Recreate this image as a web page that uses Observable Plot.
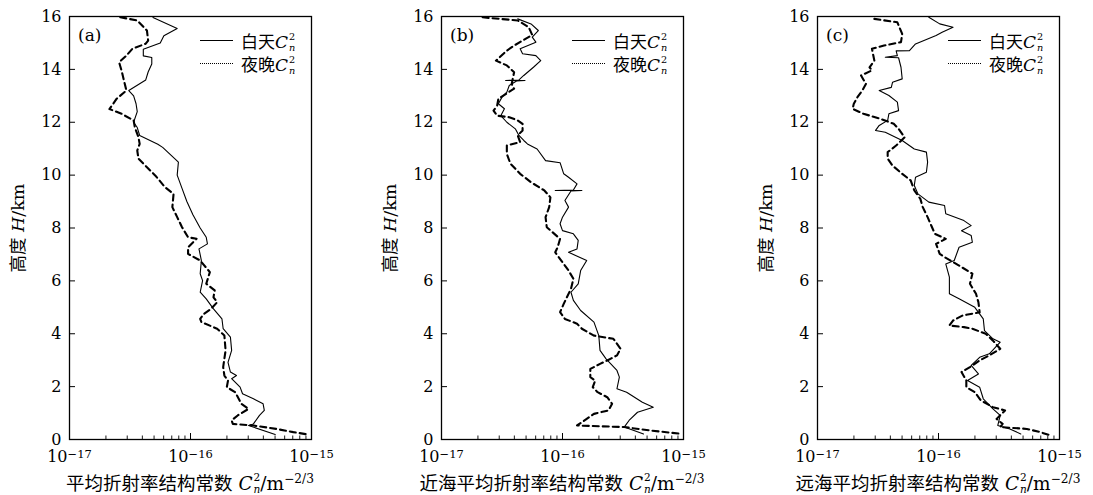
<!DOCTYPE html>
<html><head><meta charset="utf-8">
<script src="https://cdn.jsdelivr.net/npm/d3@7"></script>
<script src="https://cdn.jsdelivr.net/npm/@observablehq/plot@0.6"></script>
<style>
body{margin:0;background:#fff;}
#fig{position:relative;width:1093px;height:495px;overflow:hidden;font-family:"DejaVu Serif","Noto Sans CJK SC",serif;color:#000;background:#fff;}
.panel{position:absolute;top:0;width:372px;height:495px;}
.panel svg{max-width:none;}
.ov{position:absolute;white-space:nowrap;line-height:1;}
.cjk{font-family:"Noto Sans CJK SC",sans-serif;}
.it{font-style:italic;font-family:"DejaVu Serif",serif;}
.ss{display:inline-block;vertical-align:-0.3em;font-size:0.57em;line-height:1.17;text-align:left;margin-left:1px;}
.ss span{display:block;}
.sup{font-size:0.66em;vertical-align:0.55em;}
</style></head><body><div id="fig"></div><script>
// ---- axis ticks / labels ----
const yTicks = [0, 2, 4, 6, 8, 10, 12, 14, 16];
const xMajor = [1e-17, 1e-16, 1e-15];
const xMinor = [2e-17,3e-17,4e-17,5e-17,6e-17,7e-17,8e-17,9e-17,2e-16,3e-16,4e-16,5e-16,6e-16,7e-16,8e-16,9e-16];
const xTickBase = "10";
const xTickExp = ["\u221217", "\u221216", "\u221215"];
const panelLabels = ["(a)", "(b)", "(c)"];
const xTitles = ["平均折射率结构常数", "近海平均折射率结构常数", "远海平均折射率结构常数"];
const yTitle = "高度";
const legendNames = ["白天", "夜晚"];

// ---- data: height H (km) and log10 of C_n^2 ----
const hDayA = [15.96,15.55,15.27,15.0,14.76,14.51,14.45,14.2,13.9,13.6,13.2,13.0,12.7,12.4,12.0,11.8,11.5,11.17,11.05,10.73,10.49,10.0,9.5,9.0,8.5,8.0,7.65,7.4,7.21,6.77,6.27,6.01,5.57,5.32,4.94,4.56,4.19,3.87,3.37,2.92,2.55,2.42,2.3,1.98,1.73,1.54,1.35,1.1,0.91,0.59,0.53,0.19];
const lgDayA = [-16.31,-16.11,-16.22,-16.25,-16.39,-16.39,-16.32,-16.32,-16.35,-16.37,-16.51,-16.47,-16.45,-16.44,-16.47,-16.44,-16.42,-16.27,-16.23,-16.155,-16.10,-16.11,-16.07,-16.03,-15.98,-15.92,-15.87,-15.86,-15.93,-15.91,-15.92,-15.90,-15.92,-15.87,-15.81,-15.74,-15.73,-15.67,-15.66,-15.69,-15.67,-15.62,-15.66,-15.59,-15.57,-15.48,-15.40,-15.39,-15.43,-15.48,-15.52,-15.30];
const hNightA = [15.97,15.85,15.47,15.09,14.97,14.78,14.52,14.27,13.96,13.58,13.2,12.89,12.5,12.32,12.07,11.81,11.43,11.18,10.93,10.62,10.3,9.98,9.54,9.29,8.79,8.41,8.03,7.65,7.59,7.27,7.02,6.77,6.33,5.89,5.64,5.38,5.19,4.94,4.75,4.56,4.44,4.19,3.93,3.37,2.74,2.42,2.23,1.98,1.79,1.35,1.16,0.91,0.72,0.59,0.53,0.4,0.28,0.19];
const lgNightA = [-16.58,-16.44,-16.36,-16.35,-16.37,-16.48,-16.53,-16.59,-16.57,-16.55,-16.53,-16.61,-16.67,-16.57,-16.47,-16.46,-16.43,-16.42,-16.44,-16.43,-16.36,-16.29,-16.21,-16.14,-16.15,-16.11,-16.07,-16.02,-15.95,-16.02,-16.02,-15.92,-15.84,-15.87,-15.80,-15.81,-15.78,-15.83,-15.89,-15.92,-15.91,-15.78,-15.72,-15.71,-15.73,-15.72,-15.69,-15.70,-15.63,-15.58,-15.52,-15.61,-15.66,-15.65,-15.48,-15.29,-15.15,-15.03];

const hDayB = [15.91,15.72,15.47,15.22,15.03,14.78,14.59,14.52,14.33,14.08,13.77,13.6,13.58,13.58,13.56,13.39,13.14,12.95,12.7,12.51,12.25,12.0,11.75,11.5,11.31,11.18,10.99,10.55,10.47,10.05,9.92,9.67,9.44,9.42,9.42,9.40,9.04,8.79,8.41,8.16,7.9,7.78,7.53,7.21,7.08,6.77,6.39,5.89,5.57,5.26,4.88,4.44,3.93,3.37,3.05,2.61,2.36,1.92,1.79,1.41,1.22,1.03,0.72,0.47,0.21];
const lgDayB = [-16.37,-16.26,-16.20,-16.25,-16.22,-16.35,-16.33,-16.22,-16.18,-16.24,-16.32,-16.36,-16.47,-16.31,-16.38,-16.44,-16.46,-16.50,-16.53,-16.48,-16.51,-16.46,-16.39,-16.36,-16.32,-16.29,-16.21,-16.14,-16.02,-15.99,-15.95,-15.88,-15.91,-16.06,-15.84,-15.93,-15.98,-15.95,-16.00,-16.02,-16.00,-15.91,-15.87,-15.88,-15.95,-15.80,-15.85,-15.87,-15.93,-15.91,-15.85,-15.74,-15.70,-15.69,-15.64,-15.55,-15.53,-15.55,-15.47,-15.34,-15.25,-15.38,-15.45,-15.49,-15.33];
const hNightB = [15.97,15.85,15.6,15.3,14.9,14.71,14.33,14.15,13.89,13.45,13.27,12.89,12.63,12.44,12.25,12.19,12.07,11.94,11.69,11.5,11.25,11.12,10.8,10.43,10.05,9.73,9.42,9.16,8.79,8.41,8.03,7.59,7.27,7.08,6.64,6.39,6.08,5.7,5.13,4.82,4.56,4.38,4.19,3.93,3.81,3.43,3.18,2.99,2.86,2.67,2.36,2.23,1.98,1.79,1.6,1.35,1.1,0.97,0.78,0.53,0.47,0.34,0.21];
const lgNightB = [-16.66,-16.37,-16.28,-16.25,-16.40,-16.46,-16.55,-16.46,-16.40,-16.42,-16.40,-16.53,-16.54,-16.57,-16.54,-16.44,-16.37,-16.33,-16.33,-16.37,-16.35,-16.46,-16.46,-16.43,-16.35,-16.26,-16.15,-16.10,-16.11,-16.14,-16.13,-16.02,-16.04,-16.06,-15.99,-15.95,-15.91,-15.93,-15.99,-16.02,-15.98,-15.88,-15.84,-15.74,-15.58,-15.52,-15.55,-15.63,-15.69,-15.77,-15.77,-15.73,-15.75,-15.71,-15.63,-15.59,-15.62,-15.74,-15.80,-15.88,-15.49,-15.27,-15.01];

const hDayC = [15.97,15.72,15.59,15.4,15.28,14.96,14.71,14.70,14.52,14.46,14.44,14.08,13.64,13.51,13.32,13.2,13.01,12.76,12.44,12.32,12.07,11.88,11.69,11.62,11.31,10.99,10.87,10.49,10.11,9.92,9.61,9.29,8.98,8.85,8.54,8.28,8.09,7.9,7.72,7.46,7.27,6.77,6.64,6.14,5.51,5.32,5.0,4.56,4.12,3.81,3.68,3.24,3.11,2.8,2.48,2.23,1.98,1.54,1.16,0.91,0.53,0.4,0.21];
const lgDayC = [-16.08,-15.99,-15.88,-15.97,-16.02,-16.19,-16.24,-16.35,-16.34,-16.44,-16.33,-16.31,-16.30,-16.38,-16.39,-16.49,-16.41,-16.34,-16.33,-16.41,-16.42,-16.49,-16.52,-16.44,-16.30,-16.20,-16.10,-16.09,-16.10,-16.19,-16.20,-16.17,-16.08,-15.95,-15.94,-15.79,-15.73,-15.81,-15.73,-15.72,-15.83,-15.87,-15.94,-15.91,-15.91,-15.83,-15.70,-15.63,-15.62,-15.55,-15.49,-15.58,-15.66,-15.73,-15.67,-15.76,-15.66,-15.63,-15.55,-15.49,-15.51,-15.41,-15.32];
const hNightC = [15.91,15.78,15.34,15.03,14.9,14.78,14.33,14.08,13.96,13.77,13.45,13.2,12.95,12.7,12.51,12.32,12.13,11.94,11.75,11.43,11.12,10.87,10.62,10.36,10.05,9.8,9.42,9.1,8.79,8.41,7.78,7.59,7.4,7.02,6.9,6.58,6.27,5.89,5.51,5.19,4.81,4.69,4.5,4.31,4.25,4.19,4.0,3.74,3.43,3.18,2.99,2.74,2.55,2.23,1.98,1.79,1.48,1.22,1.1,0.78,0.59,0.47,0.4,0.28,0.15];
const lgNightC = [-16.53,-16.34,-16.30,-16.31,-16.45,-16.55,-16.53,-16.57,-16.55,-16.64,-16.60,-16.63,-16.67,-16.70,-16.71,-16.62,-16.48,-16.37,-16.33,-16.28,-16.35,-16.42,-16.42,-16.38,-16.30,-16.23,-16.20,-16.15,-16.13,-16.09,-16.03,-15.94,-16.02,-15.99,-15.95,-15.83,-15.72,-15.74,-15.69,-15.67,-15.66,-15.80,-15.88,-15.91,-15.79,-15.72,-15.61,-15.55,-15.49,-15.58,-15.66,-15.74,-15.81,-15.77,-15.77,-15.70,-15.65,-15.55,-15.45,-15.52,-15.47,-15.49,-15.27,-15.16,-15.07];

const series = [
  [hDayA, lgDayA, hNightA, lgNightA],
  [hDayB, lgDayB, hNightB, lgNightB],
  [hDayC, lgDayC, hNightC, lgNightC]
];
const toRows = (h, lg) => h.map((v, i) => ({H: v, C: Math.pow(10, lg[i])}));

// ---- layout ----
const fig = document.getElementById("fig");
const panelLeft = [0, 372, 748];
const ML = 69, MR = 61, MT = 16, MB = 56, W = 372, H = 495;
const FW = W - ML - MR, FH = H - MT - MB;
const cn = '<span class="it">C</span><span class="ss"><span>2</span><span class="it">n</span></span>';

function ov(html, css) {
  const d = document.createElement("div");
  d.className = "ov";
  d.innerHTML = html;
  Object.assign(d.style, css);
  fig.appendChild(d);
  return d;
}

series.forEach(([hd, ld, hn, ln], p) => {
  const day = toRows(hd, ld), night = toRows(hn, ln);
  const svg = Plot.plot({
    width: W, height: H,
    marginLeft: ML, marginRight: MR, marginTop: MT, marginBottom: MB,
    x: {type: "log", domain: [1e-17, 1e-15]},
    y: {domain: [0, 16]},
    style: {fontFamily: '"DejaVu Serif", serif', fontSize: "16px", color: "#000", background: "transparent", overflow: "visible", maxWidth: "none"},
    marks: [
      Plot.line(day, {x: "C", y: "H", stroke: "#000", strokeWidth: 1.1}),
      Plot.line(night, {x: "C", y: "H", stroke: "#000", strokeWidth: 2.1, strokeDasharray: "6,4"}),
      Plot.tickY(yTicks, {y: d => d, insetRight: FW - 6, stroke: "#000", strokeWidth: 1}),
      Plot.tickX(xMajor, {x: d => d, insetTop: FH - 6, stroke: "#000", strokeWidth: 1}),
      Plot.tickX(xMinor, {x: d => d, insetTop: FH - 3.5, stroke: "#000", strokeWidth: 0.9}),
      Plot.axisY({ticks: yTicks, tickSize: 0, tickPadding: 8, label: null, fontSize: 16}),
      Plot.axisX({ticks: xMajor, tickSize: 0, tickPadding: 11, label: null, fontSize: 16,
                  tickFormat: d => xTickBase + "|" + xTickExp[xMajor.indexOf(d)]}),
      Plot.frame({stroke: "#000", strokeWidth: 1.3})
    ]
  });
  // turn "10|−17" tick labels into 10 with a raised exponent
  d3.select(svg).selectAll("text").each(function () {
    const t = d3.select(this);
    const s = t.text();
    if (s.indexOf("|") < 0) return;
    const [base, ex] = s.split("|");
    t.text(null);
    t.append("tspan").text(base);
    t.append("tspan").attr("dy", "-0.36em").attr("font-size", "0.72em").text(ex);
  });
  const wrap = document.createElement("div");
  wrap.className = "panel";
  wrap.style.left = panelLeft[p] + "px";
  wrap.appendChild(svg);
  fig.appendChild(wrap);

  const FL = panelLeft[p] + ML;
  // panel label
  ov(panelLabels[p], {left: (FL + 9) + "px", top: "27px", fontSize: "17px"});
  // legend
  ov("", {left: (FL + 131) + "px", top: "40px", width: "33px", borderTop: "1.2px solid #000"});
  ov("", {left: (FL + 131) + "px", top: "63px", width: "33px", borderTop: "1px dotted #000"});
  ov('<span class="cjk">' + legendNames[0] + '</span>' + cn, {left: (FL + 172) + "px", top: "31px", fontSize: "17px"});
  ov('<span class="cjk">' + legendNames[1] + '</span>' + cn, {left: (FL + 172) + "px", top: "54px", fontSize: "17px"});
  // x title
  ov('<span class="cjk">' + xTitles[p] + '</span> ' + cn + '/m<span class="sup">\u22122/3</span>',
    {left: (FL + FW / 2) + "px", top: "471px", fontSize: "18.5px", transform: "translateX(-50%)"});
  // y title
  ov('<span class="cjk">' + yTitle + '</span> <span class="it">H</span>/km',
    {left: (panelLeft[p] + 18) + "px", top: (MT + FH / 2) + "px", fontSize: "17.5px", transform: "translate(-50%,-50%) rotate(-90deg)"});
});
</script></body></html>
